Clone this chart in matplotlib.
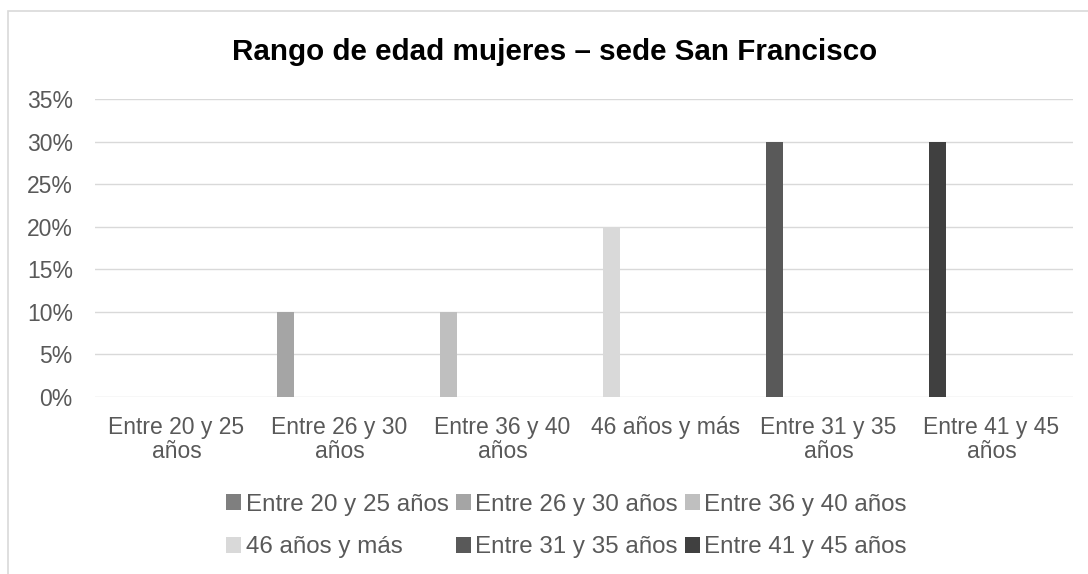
import numpy as np
import matplotlib
matplotlib.use('Agg')
import matplotlib.pyplot as plt
from matplotlib.patches import Rectangle
from matplotlib.ticker import PercentFormatter

plt.rcParams['font.family'] = ['Liberation Sans', 'DejaVu Sans']

# data
title = 'Rango de edad mujeres – sede San Francisco'
series = ['Entre 20 y 25 años', 'Entre 26 y 30 años', 'Entre 36 y 40 años',
          '46 años y más', 'Entre 31 y 35 años', 'Entre 41 y 45 años']
tick_labels = ['Entre 20 y 25\naños', 'Entre 26 y 30\naños', 'Entre 36 y 40\naños',
               '46 años y más', 'Entre 31 y 35\naños', 'Entre 41 y 45\naños']
values = [0, 10, 10, 20, 30, 30]   # % per age range
colors = ['#7f7f7f', '#a5a5a5', '#bfbfbf', '#d9d9d9', '#595959', '#404040']

# layout
bar_offset = -0.333
bar_width = 0.104
txt = '#595959'
fs = 16.5
leg_fs = 17.4

fig = plt.figure(figsize=(10.88, 5.74), dpi=100)
ax = fig.add_axes([0.0873, 0.3092, 0.8989, 0.5175])

x = np.arange(len(series))
handles = []
for k in range(len(series)):
    h = ax.bar(x[k] + bar_offset, values[k], width=bar_width, color=colors[k],
               label=series[k], zorder=3)
    handles.append(h)

ax.set_xlim(-0.5, len(series) - 0.5)
ax.set_ylim(0, 35)
ax.set_yticks(np.arange(0, 36, 5))
ax.yaxis.set_major_formatter(PercentFormatter(decimals=0))
ax.set_xticks(x)
ax.set_xticklabels(tick_labels, fontsize=fs, color=txt, linespacing=1.05)
ax.tick_params(axis='x', length=0, pad=14)
ax.tick_params(axis='y', length=0, pad=16, labelsize=fs, labelcolor=txt)
ax.grid(axis='y', color='#d9d9d9', linewidth=1.0, zorder=0)
for s in ax.spines.values():
    s.set_visible(False)

fig.text(0.51, 1 - 52 / 574, title, ha='center', va='center',
         fontsize=21.3, fontweight='bold', color='black')

# legend filled row by row
order = [0, 3, 1, 4, 2, 5]
leg = fig.legend([handles[i] for i in order], [series[i] for i in order],
                 ncol=3, loc='center', bbox_to_anchor=(566.5 / 1088, 1 - 526 / 574),
                 frameon=False, fontsize=leg_fs, handlelength=0.62, handleheight=0.62,
                 handletextpad=0.18, columnspacing=0.3, labelspacing=0.85,
                 borderpad=0)
for t in leg.get_texts():
    t.set_color(txt)

# chart border (cropped on right and bottom)
fig.patches.append(Rectangle((8 / 1088, -0.1), 1.2, 1.1 - 11.5 / 574,
                             transform=fig.transFigure, fill=False,
                             edgecolor='#d9d9d9', linewidth=1.2))

fig.savefig('out.png', dpi=100, facecolor='white')
